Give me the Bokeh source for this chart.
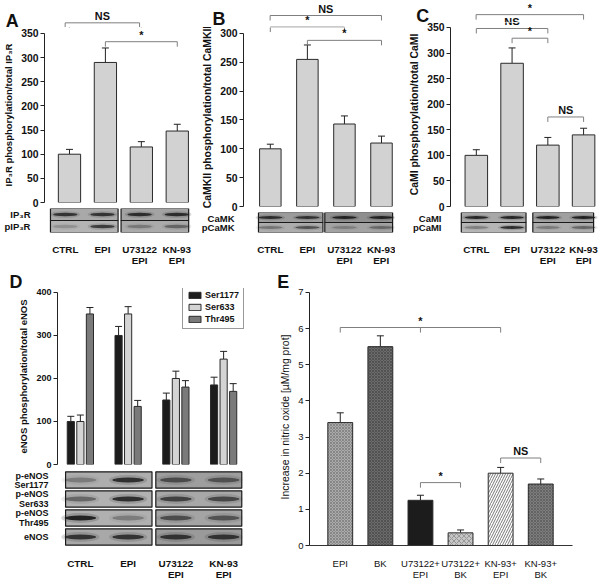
from bokeh.plotting import figure
from bokeh.layouts import row, column
from bokeh.models import (Range1d, FactorRange, FixedTicker, Whisker, TeeHead,
                          ColumnDataSource, Legend, LegendItem)
from bokeh.core.properties import value
from bokeh.embed import file_html
from bokeh.resources import INLINE

S = 0.995
FONT = "Liberation Sans"


def px(v):
    return int(round(v * S))


def fs(v):
    return f"{v * S:.1f}px"


# ------------------------------------------------------------------ data
lanes_abc = ["CTRL", "EPI", "U73122\nEPI", "KN-93\nEPI"]

a_ylabel = "IP₃R phosphorylation/total IP₃R"
a_vals = [100, 290, 115, 148]
a_err = [10, 30, 11, 14]
a_brackets = [([0, 2], 372, "NS"), ([1, 3], 333, "*")]
a_rows = ["IP₃R", "pIP₃R"]
a_bands = [[0.80, 0.80, 0.85, 0.85], [0.20, 0.75, 0.30, 0.45]]

b_ylabel = "CaMKII phosphorylation/total CaMKII"
b_vals = [100, 255, 143, 110]
b_err = [8, 25, 14, 12]
b_brackets = [([0, 3], 331, "NS"), ([0, 2], 311, "*"), ([1, 3], 288, "*")]
b_rows = ["CaMK", "pCaMK"]
b_bands = [[0.85, 0.80, 0.95, 0.95], [0.35, 0.60, 0.25, 0.40]]

c_ylabel = "CaMI phosphorylation/total CaMI"
c_vals = [100, 280, 120, 140]
c_err = [11, 30, 15, 13]
c_brackets = [([0, 3], 375, "*"), ([0, 2], 348, "NS"), ([1, 2], 329, "*"),
              ([2, 3], 175, "NS")]
c_rows = ["CaMI", "pCaMI"]
c_bands = [[0.90, 0.90, 0.95, 0.95], [0.30, 0.85, 0.30, 0.45]]

d_ylabel = "eNOS phosphorylation/total eNOS"
d_series = ["Ser1177", "Ser633", "Thr495"]
d_ser1177 = [100, 300, 150, 185]
d_ser1177_err = [12, 21, 16, 18]
d_ser633 = [100, 350, 200, 245]
d_ser633_err = [15, 17, 17, 18]
d_thr495 = [350, 135, 180, 170]
d_thr495_err = [15, 14, 15, 18]
d_rows = ["p-eNOS\nSer1177", "p-eNOS\nSer633", "p-eNOS\nThr495", "eNOS"]
d_bands = [[0.30, 0.85, 0.60, 0.55],
           [0.45, 0.85, 0.70, 0.65],
           [0.95, 0.30, 0.60, 0.55],
           [0.80, 0.80, 0.80, 0.80]]

e_ylabel = "Increase in nitric oxide [µM/mg prot]"
e_groups = ["EPI", "BK", "U73122+\nEPI", "U73122+\nBK", "KN-93+\nEPI", "KN-93+\nBK"]
e_vals = [3.4, 5.5, 1.25, 0.35, 2.0, 1.7]
e_err = [0.27, 0.30, 0.14, 0.08, 0.16, 0.14]
e_brackets = [([0, 2, 4], 6.03, "*"), ([2, 3], 1.74, "*"), ([4, 5], 2.42, "NS")]

# ------------------------------------------------------------------ helpers


def style_axis(ax, size, bold=True):
    st = "bold" if bold else "normal"
    ax.major_label_text_font = FONT
    ax.major_label_text_font_size = fs(size)
    ax.major_label_text_font_style = st
    ax.major_label_text_color = "#111111"
    ax.axis_label_text_font = FONT
    ax.axis_label_text_font_size = fs(size)
    ax.axis_label_text_font_style = st
    ax.axis_label_text_color = "#111111"
    ax.minor_tick_line_color = None


def base_figure(fw, fh, left, right, top, bottom, xr, yr, xaxis=True, yaxis=True):
    p = figure(width=px(fw), height=px(fh), x_range=xr, y_range=yr, title=None,
               min_border_left=px(left), min_border_right=px(right),
               min_border_top=px(top), min_border_bottom=px(bottom),
               x_axis_location="below" if xaxis else None,
               y_axis_location="left" if yaxis else None,
               output_backend="svg", toolbar_location=None)
    p.frame_align = False
    p.outline_line_color = None
    p.xgrid.visible = False
    p.ygrid.visible = False
    p.background_fill_color = "white"
    p.border_fill_color = "white"
    return p


def setup_yaxis(p, label, ymax, step, label_size, tick_size, bold=True):
    ax = p.yaxis[0]
    ax.ticker = FixedTicker(ticks=list(range(0, ymax + 1, step)))
    ax.bounds = (0, ymax)
    ax.axis_label = label
    style_axis(ax, label_size, bold)
    ax.major_label_text_font_size = fs(tick_size)
    ax.major_tick_in = 0
    ax.major_tick_out = px(4)
    ax.major_label_standoff = px(2)
    ax.axis_label_standoff = px(4)
    ax.axis_line_color = "#222222"
    ax.major_tick_line_color = "#222222"


def add_bars(p, xs, vals, errs, width, fill, **kw):
    src = ColumnDataSource(dict(x=xs, top=vals,
                                upper=[v + e for v, e in zip(vals, errs)]))
    r = p.vbar(x="x", top="top", bottom=0, width=width, source=src,
               fill_color=fill, line_color="#2a2a2a", line_width=1, **kw)
    w = Whisker(source=src, base="x", lower="top", upper="upper",
                line_color="#222222", line_width=1,
                upper_head=TeeHead(size=px(7), line_color="#222222", line_width=1),
                lower_head=None)
    p.add_layout(w)
    return r


def add_brackets(head, body, split, brackets, tip, text_h, size=11):
    # lines go to both the header strip and the plot (each clips its own part);
    # each label goes to the strip that holds it
    for legs, level, txt in brackets:
        for p in (head, body):
            p.line([legs[0], legs[0], legs[-1], legs[-1]],
                   [level - tip, level, level, level - tip],
                   line_color="#7f7f7f", line_width=1)
            for m in legs[1:-1]:
                p.segment(x0=[m], y0=[level], x1=[m], y1=[level - tip],
                          line_color="#7f7f7f", line_width=1)
        if level >= split:
            targets = [head]
        elif level + text_h <= split:
            targets = [body]
        else:
            targets = [head, body]
        for p in targets:
            p.text(x=[(legs[0] + legs[-1]) / 2], y=[level], text=[txt],
                   text_align="center", text_baseline="bottom", y_offset=-1,
                   text_font=value(FONT), text_font_style="bold",
                   text_font_size=fs(size), text_color="#111111")


def header_figure(fw, fh, right, xr, yr, letter, lx, ly):
    p = base_figure(fw, fh, 0, right, 0, 0, Range1d(*xr), Range1d(*yr),
                    xaxis=False, yaxis=False)
    p.text(x=[lx], y=[ly], text=[letter], text_align="left",
           text_baseline="alphabetic", text_font=value(FONT),
           text_font_style="bold", text_font_size=fs(18), text_color="#111111")
    return p


def blot_figure(fw, fh, left, right, top, bottom, xr, rows, labels, boxes,
                bgs, bands, row_h, band_h, lab_size=9.5):
    factors = list(reversed(rows))
    p = base_figure(fw, fh, left, right, top, bottom, Range1d(*xr),
                    FactorRange(factors=factors, range_padding=0))
    lanes = list(range(len(labels)))
    for r, name in enumerate(rows):
        for b, (a0, a1) in enumerate(boxes):
            p.rect(x=[(a0 + a1) / 2], y=[name], width=[a1 - a0], height=[row_h],
                   fill_color=bgs[r][b], line_color="#1a1a1a", line_width=1.2)
        p.ellipse(x=lanes, y=[name] * len(lanes), width=0.80, height=band_h * 2.0,
                  fill_color="#333333", fill_alpha=[0.22 * v for v in bands[r]],
                  line_color=None)
        p.ellipse(x=lanes, y=[name] * len(lanes), width=0.66, height=band_h,
                  fill_color="#1c1c1c", fill_alpha=bands[r], line_color=None)
    ax = p.xaxis[0]
    ax.ticker = FixedTicker(ticks=lanes)
    ax.major_label_overrides = {i: lab for i, lab in enumerate(labels)}
    style_axis(ax, 10)
    ax.major_label_text_line_height = 1.05
    ax.axis_line_color = None
    ax.major_tick_line_color = None
    ax.major_label_standoff = px(5)
    ay = p.yaxis[0]
    style_axis(ay, lab_size)
    ay.major_label_text_line_height = 0.95
    ay.axis_line_color = None
    ay.major_tick_line_color = None
    ay.major_label_standoff = px(3)
    return p


blot_greys_2 = [[["#a9a9a9", "#a3a3a3"], ["#b4b4b4", "#aaaaaa"]],
                [["#9c9c9c", "#8f8f8f"], ["#adadad", "#a3a3a3"]],
                [["#a8a8a8", "#a0a0a0"], ["#b6b6b6", "#acacac"]]]
blot_greys_d = [["#aeaeae", "#9e9e9e"], ["#b2b2b2", "#a8a8a8"],
                ["#b0b0b0", "#a4a4a4"], ["#a8a8a8", "#9a9a9a"]]

# ------------------------------------------------------------------ panel A
a_xr = (-0.695, 3.396)
ha = header_figure(197, 27, 5, (-1.738, a_xr[1]), (362.4, 418.0), "A", -1.60, 376.8)
pa = base_figure(197, 182, 39, 5, 0, 6, Range1d(*a_xr), Range1d(0, 362.4), xaxis=False)
setup_yaxis(pa, a_ylabel, 350, 50, 9.5, 10.5)
add_bars(pa, list(range(len(a_vals))), a_vals, a_err, 0.62, "#d2d2d2")
add_brackets(ha, pa, 362.4, a_brackets, 10.3, 26)
pa_blot = blot_figure(197, 61, 39, 5, 0, 27, a_xr, a_rows, lanes_abc,
                      [(-0.40, 1.42), (1.50, 3.32)], blot_greys_2[0], a_bands, 1.0, 0.28)

# ------------------------------------------------------------------ panel B
b_xr = (-0.724, 3.351)
hb = header_figure(200, 27, 1, (-1.984, b_xr[1]), (310.3, 356.9), "B", -1.55, 325.8)
pb = base_figure(200, 186, 47, 1, 0, 6, Range1d(*b_xr), Range1d(0, 310.3), xaxis=False)
setup_yaxis(pb, b_ylabel, 300, 50, 10.5, 10.5)
add_bars(pb, list(range(len(b_vals))), b_vals, b_err, 0.58, "#d2d2d2")
add_brackets(hb, pb, 310.3, b_brackets, 8.6, 22)
pb_blot = blot_figure(200, 57, 47, 1, 0, 24, b_xr, b_rows, lanes_abc,
                      [(-0.32, 1.42), (1.47, 3.30)], blot_greys_2[1], b_bands, 1.0, 0.30)

# ------------------------------------------------------------------ panel C
c_xr = (-0.722, 3.389)
hc = header_figure(208, 22, 5, (-2.25, c_xr[1]), (359.7, 402.5), "C", -1.67, 371.4)
pc = base_figure(208, 191, 55, 5, 0, 6, Range1d(*c_xr), Range1d(0, 359.7), xaxis=False)
setup_yaxis(pc, c_ylabel, 350, 50, 10.5, 10.5)
add_bars(pc, list(range(len(c_vals))), c_vals, c_err, 0.63, "#d2d2d2")
add_brackets(hc, pc, 359.7, c_brackets, 9.7, 25)
pc_blot = blot_figure(208, 57, 55, 5, 0, 23, c_xr, c_rows, lanes_abc,
                      [(-0.42, 1.39), (1.58, 3.28)], blot_greys_2[2], c_bands, 1.0, 0.28)

# ------------------------------------------------------------------ panel D
d_xr = (-0.479, 3.5)
hd = header_figure(252, 19, 4, (-1.667, d_xr[1]), (409.2, 453.2), "D", -1.48, 425.4)
pd_ = base_figure(252, 183, 57, 4, 0, 6, Range1d(*d_xr), Range1d(0, 409.2), xaxis=False)
setup_yaxis(pd_, d_ylabel, 400, 100, 9.5, 9)
d_offsets = [-0.2, 0.0, 0.2]
d_fills = ["#1c1c1c", "#d4d4d4", "#7a7a7a"]
d_data = [(d_ser1177, d_ser1177_err), (d_ser633, d_ser633_err), (d_thr495, d_thr495_err)]
d_renderers = []
for (vals, errs), off, col in zip(d_data, d_offsets, d_fills):
    xs = [g + off for g in range(len(vals))]
    d_renderers.append(add_bars(pd_, xs, vals, errs, 0.15, col))
legend = Legend(items=[LegendItem(label=n, renderers=[r]) for n, r in zip(d_series, d_renderers)],
                location=(px(126), px(136)), label_text_font=FONT,
                label_text_font_size=fs(9), label_text_font_style="bold",
                label_text_color="#111111",
                glyph_width=px(15), glyph_height=px(8), label_height=px(9),
                label_standoff=px(3), spacing=px(2), padding=px(4), margin=0,
                border_line_color="#333333", border_line_width=1,
                background_fill_color="white")
pd_.add_layout(legend)
pd_blot = blot_figure(252, 114, 57, 4, 0, 29, d_xr, d_rows, lanes_abc,
                      [(-0.31, 1.50), (1.58, 3.38)], blot_greys_d, d_bands, 0.86, 0.26,
                      lab_size=9)

# ------------------------------------------------------------------ panel E
e_xr = (-0.767, 5.792)
he = header_figure(353, 19, 30, (-2.203, e_xr[1]), (7.109, 7.633), "E", -1.56, 7.302)
pe = base_figure(353, 297, 58, 30, 0, 39, Range1d(*e_xr), Range1d(0, 7.109))
setup_yaxis(pe, e_ylabel, 7, 1, 10.5, 9.5, bold=False)
e_fill = ["#ababab", "#6c6c6c", "#1c1c1c", "#c6c6c6", "#ffffff", "#7e7e7e"]
e_hatch = ["diagonal_cross", "diagonal_cross", " ", "diagonal_cross",
           "right_diagonal_line", "diagonal_cross"]
e_hatch_col = ["#7c7c7c", "#4a4a4a", "#1c1c1c", "#8c8c8c", "#555555", "#5c5c5c"]
e_hatch_scale = [3, 3, 3, 5, 5, 3]
esrc = ColumnDataSource(dict(x=list(range(len(e_vals))), top=e_vals,
                             upper=[v + e for v, e in zip(e_vals, e_err)],
                             fill=e_fill, hatch=e_hatch, hcol=e_hatch_col, hsc=e_hatch_scale))
pe.vbar(x="x", top="top", bottom=0, width=0.62, source=esrc, fill_color="fill",
        line_color="#2a2a2a", line_width=1, hatch_pattern="hatch", hatch_color="hcol",
        hatch_scale="hsc", hatch_weight=0.8)
pe.add_layout(Whisker(source=esrc, base="x", lower="top", upper="upper",
                      line_color="#222222", line_width=1,
                      upper_head=TeeHead(size=px(7), line_color="#222222", line_width=1),
                      lower_head=None))
add_brackets(he, pe, 7.109, e_brackets, 0.14, 0.4)
ex = pe.xaxis[0]
ex.ticker = FixedTicker(ticks=list(range(len(e_groups))))
ex.major_label_overrides = {i: lab for i, lab in enumerate(e_groups)}
style_axis(ex, 9.5, bold=False)
ex.major_label_text_line_height = 1.05
ex.axis_line_color = "#333333"
ex.major_tick_line_color = None
ex.major_label_standoff = px(6)

# ------------------------------------------------------------------ layout
top_row = row(column(ha, pa, pa_blot, spacing=0), column(hb, pb, pb_blot, spacing=0),
              column(hc, pc, pc_blot, spacing=0), spacing=0)
bottom_row = row(column(hd, pd_, pd_blot, spacing=0), column(he, pe, spacing=0), spacing=0)
layout = column(top_row, bottom_row, spacing=0)

open("out.html", "w").write(file_html(layout, INLINE))
